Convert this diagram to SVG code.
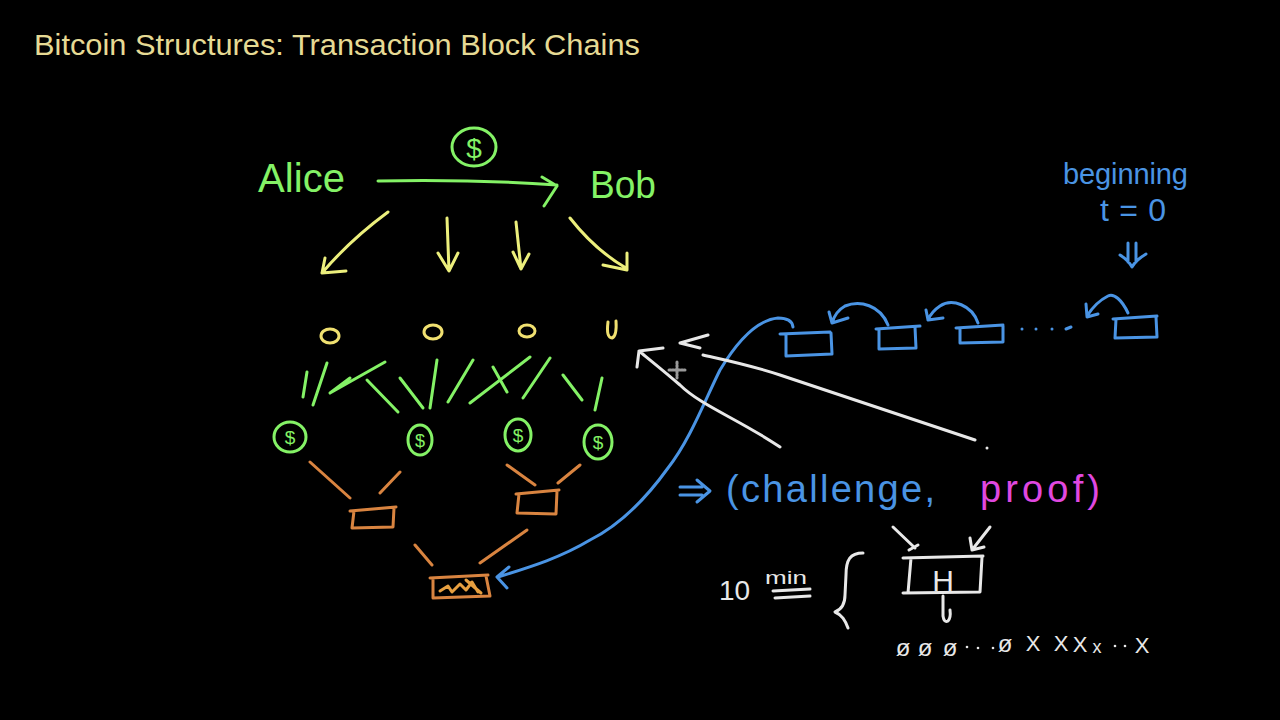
<svg xmlns="http://www.w3.org/2000/svg" width="1280" height="720" viewBox="0 0 1280 720">
<style>
  path, line, ellipse { fill: none; stroke-width: 3; stroke-linecap: round; stroke-linejoin: round; }
  .g { stroke: #84f266; }
  .y { stroke: #ecef7c; }
  .yo { stroke: #f0e070; }
  .o { stroke: #d98440; }
  .b { stroke: #4a94e4; }
  .w { stroke: #e8e8e8; }
  .m { stroke: #e048e0; }
  .hand { font-family: "Liberation Sans", "DejaVu Sans", sans-serif; }
  .tg { fill: #84f266; }
  .tb { fill: #4a94e4; }
  .tw { fill: #e8e8e8; }
  .tm { fill: #e048e0; }
</style>
<rect width="1280" height="720" fill="#000"/>

<g id="title">
  <text x="34" y="55" font-family="Liberation Sans, Arial, sans-serif" font-size="30" fill="#e6da94" textLength="606" lengthAdjust="spacingAndGlyphs">Bitcoin Structures: Transaction Block Chains</text>
</g>

<g id="alice"><text class="hand tg" x="258" y="192" font-size="40" textLength="87">Alice</text></g>
<g id="bob"><text class="hand tg" x="590" y="198" font-size="38" textLength="66" lengthAdjust="spacingAndGlyphs">Bob</text></g>
<g id="coin">
  <ellipse class="g" cx="474" cy="147" rx="22" ry="19"/>
  <text class="hand tg" x="474" y="158" font-size="28" text-anchor="middle">$</text>
</g>

<g id="outputs">
  <ellipse class="yo" cx="330" cy="336" rx="9" ry="7"/>
  <ellipse class="yo" cx="433" cy="332" rx="9" ry="7"/>
  <ellipse class="yo" cx="527" cy="331" rx="8" ry="6"/>
  <path class="yo" d="M608,322 Q606,338 612,338 Q617,336 616,321"/>
</g>

<g id="coins">
  <ellipse class="g" cx="290" cy="437" rx="16" ry="15"/>
  <text class="hand tg" x="290" y="444" font-size="19" text-anchor="middle">$</text>
  <ellipse class="g" cx="420" cy="440" rx="12" ry="15"/>
  <text class="hand tg" x="420" y="447" font-size="18" text-anchor="middle">$</text>
  <ellipse class="g" cx="518" cy="435" rx="13" ry="16"/>
  <text class="hand tg" x="518" y="442" font-size="19" text-anchor="middle">$</text>
  <ellipse class="g" cx="598" cy="442" rx="14" ry="17"/>
  <text class="hand tg" x="598" y="449" font-size="19" text-anchor="middle">$</text>
</g>

<g id="blocks-tree">
  <path class="o" d="M350,511 L396,507 M354,511 L352,528 L393,527 L394,508"/>
  <path class="o" d="M516,494 L559,490 M519,494 L517,513 L556,514 L557,491"/>
  <path class="o" d="M430,578 L488,575 M433,578 L433,598 L490,596 L486,576"/>
  <path d="M440,591 L448,586 L452,592 L460,584 L466,590 L472,582 L478,592 M466,580 L481,593" stroke="#e8a040" stroke-width="2"/>
</g>

<g id="chain">
  <path class="b" d="M780,334 L830,332 M786,334 L786,356 L832,354 L831,333"/>
  <path class="b" d="M876,329 L920,326 M879,329 L879,349 L916,348 L915,327"/>
  <path class="b" d="M956,328 L1003,325 M960,328 L960,343 L1003,342 L1003,326"/>
  <path class="b" d="M1113,319 L1157,316 M1116,319 L1115,338 L1157,337 L1156,317"/>
  <circle cx="1022" cy="329" r="1.5" fill="#4a94e4"/>
  <circle cx="1036" cy="329" r="1.5" fill="#4a94e4"/>
  <circle cx="1052" cy="329" r="1.5" fill="#4a94e4"/>
  <path class="b" d="M1066,329 L1071,327" stroke-width="2"/>
</g>

<g id="beginning">
  <text class="hand tb" x="1063" y="184" font-size="29" textLength="125">beginning</text>
  <text class="hand tb" x="1100" y="221" font-size="32" textLength="66">t=0</text>
  <path class="b" d="M1128,243 L1128,262 M1136,243 L1136,262 M1120,255 Q1128,260 1132,267 Q1136,260 1146,254"/>
</g>

<g id="challenge">
  <path class="b" d="M680,487 L702,487 M680,495 L702,495 M697,480 L710,491 L697,502"/>
  <text class="hand tb" x="726" y="502" font-size="38" textLength="209" lengthAdjust="spacing">(challenge,</text>
  <text class="hand tm" x="980" y="502" font-size="38" textLength="120" lengthAdjust="spacing">proof)</text>
</g>

<g id="hash">
  <path class="w" d="M903,558 L983,556 M911,558 L908,593 M903,593 L980,592 L982,557"/>
  <text class="hand tw" x="943" y="591" font-size="30" text-anchor="middle">H</text>
  <path class="w" d="M943,596 L943,616 Q944,623 948,621 Q951,618 950,610"/>
  <text class="hand tw" x="719" y="600" font-size="28">10</text>
  <text class="hand tw" x="765" y="584" font-size="19" textLength="42" lengthAdjust="spacingAndGlyphs">min</text>
  <path class="w" d="M773,591 L810,589 M775,598 L810,596" stroke-width="2.5"/>
  <path class="w" d="M863,553 C850,553 846,560 846,575 L845,595 C845,605 840,610 835,612 C842,615 845,620 848,628"/>
</g>

<g id="result" class="hand tw" font-size="22" text-anchor="middle">
  <text x="903" y="656" font-size="24">ø</text>
  <text x="925" y="656" font-size="24">ø</text>
  <text x="950" y="656" font-size="24">ø</text>
  <text x="1005" y="652" font-size="24">ø</text>
  <text x="1033" y="651">X</text>
  <text x="1061" y="651">X</text>
  <text x="1080" y="652">X</text>
  <text x="1097" y="653" font-size="18">x</text>
  <text x="1142" y="653">X</text>
  <circle cx="967" cy="647" r="1.3"/>
  <circle cx="978" cy="648" r="1.3"/>
  <circle cx="993" cy="648" r="1.3"/>
  <circle cx="1115" cy="646" r="1.3"/>
  <circle cx="1125" cy="646" r="1.3"/>
</g>

<g id="connectors">
  <path class="g" d="M378,181 Q470,179 557,185 M542,177 L557,186 L544,206"/>
  <path class="y" d="M388,212 Q350,240 322,273 M325,258 L322,273 L346,271"/>
  <path class="y" d="M447,218 L449,271 M438,253 L449,271 L458,253"/>
  <path class="y" d="M516,222 L521,269 M513,252 L521,269 L529,254"/>
  <path class="y" d="M570,218 Q595,250 626,268 M603,265 L627,270 L627,253"/>

  <path class="g" d="M307,372 L303,397 M327,363 L313,405 M385,362 L330,393 M350,378 L330,393"/>
  <path class="g" d="M367,380 L398,412 M400,378 L423,408 M437,360 L430,408"/>
  <path class="g" d="M473,360 L448,402 M530,357 L470,403 M493,367 L507,392 M550,358 L523,398 M563,375 L582,400 M602,378 L595,410"/>

  <path class="o" d="M310,462 L350,498 M400,472 L380,493 M507,465 L535,485 M580,465 L558,483 M415,545 L432,565 M527,530 L480,563"/>

  <path class="b" d="M793,327 Q792,318 778,318 C755,320 735,345 720,370 C705,400 690,440 668,468 C645,500 620,525 590,540 C560,558 530,567 498,577 M509,567 L497,577 L507,588" stroke-width="2.5"/>
  <path class="b" d="M888,325 C880,305 860,300 845,306 C838,310 834,316 832,323 M829,312 L832,323 L848,318"/>
  <path class="b" d="M978,323 C972,305 952,298 940,306 C934,310 930,315 928,320 M926,310 L928,320 L943,318"/>
  <path class="b" d="M1128,313 C1122,300 1114,293 1108,296 C1100,300 1092,308 1087,316 M1086,304 L1087,317 L1098,314"/>

  <path class="w" d="M780,447 C740,420 700,405 680,385 C665,372 650,360 639,351 M663,348 L639,351 L637,367"/>
  <path class="w" d="M975,440 C900,415 840,395 780,375 C750,365 725,360 703,355 M708,335 L680,343 L700,348"/>
  <circle cx="987" cy="448" r="1.5" fill="#e8e8e8"/>
  <path class="w" d="M893,527 L915,548 M909,550 L918,545" stroke-width="2.5"/>
  <path class="w" d="M990,527 L972,550 M970,538 L972,550 L984,547" stroke-width="2.5"/>
</g>

<g id="cursor">
  <path d="M677,362 L677,378 M669,370 L685,370" stroke="#999" stroke-width="1" stroke-dasharray="2 1"/>
</g>
</svg>
